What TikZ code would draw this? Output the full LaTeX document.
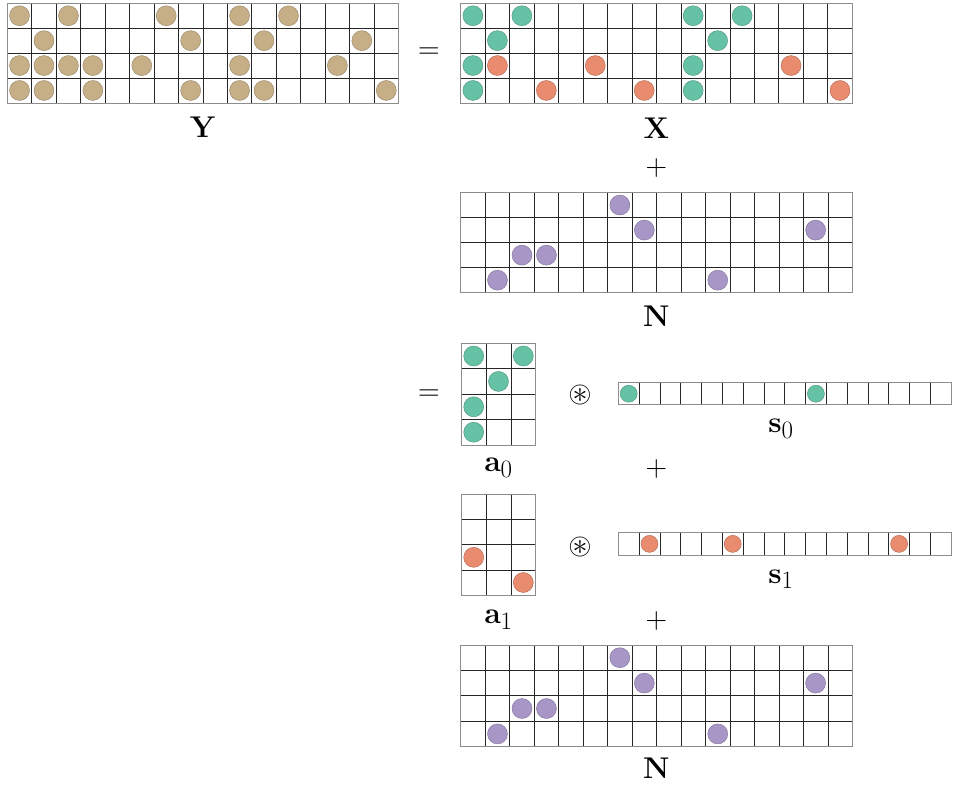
\documentclass[tikz,border=0pt]{standalone}
\usepackage{amsmath,amssymb}
\definecolor{tanc}{RGB}{198,175,135}
\definecolor{grnc}{RGB}{102,194,165}
\definecolor{orgc}{RGB}{232,139,110}
\definecolor{purc}{RGB}{168,150,199}
\tikzset{
  inln/.style={draw=black!85,line width=0.5pt},
  bdln/.style={draw=black!45,line width=0.6pt},
  lbl/.style={font=\Huge,scale=0.904,inner sep=0pt,anchor=base},
}
\newcommand\mygrid[6]{%
  \foreach \i in {0,...,#3} \draw[inln] ({#1+\i*#5},#2) -- ({#1+\i*#5},{#2+#4*#6});
  \foreach \j in {0,...,#4} \draw[inln] (#1,{#2+\j*#6}) -- ({#1+#3*#5},{#2+\j*#6});
  \draw[bdln] (#1,#2) rectangle ({#1+#3*#5},{#2+#4*#6});
}
\newcommand\mydisks[7]{%
  \foreach \c/\r in {#7} \filldraw[fill=#5,draw=#5!75!black,line width=0.3pt] ({#1+(\c+0.5)*#3},{#2+(\r+0.5)*#4}) circle[radius=#6];
}
\begin{document}
\begin{tikzpicture}[x=0.75pt,y=-0.75pt]
\useasboundingbox (0,0) rectangle (954,790);
% Y
\mygrid{7.3}{3.3}{16}{4}{24.45}{24.9}
\mydisks{7.3}{3.3}{24.45}{24.9}{tanc}{7.5pt}{0/0,2/0,6/0,9/0,11/0,1/1,7/1,10/1,14/1,0/2,1/2,2/2,3/2,5/2,9/2,13/2,0/3,1/3,3/3,7/3,9/3,10/3,15/3}
\node[lbl] (labY) at (203,137.5) {$\mathbf{Y}$};
\node[lbl] (eq1) at (429,58.5) {$=$};
% X
\mygrid{460.7}{3.3}{16}{4}{24.47}{24.9}
\mydisks{460.7}{3.3}{24.47}{24.9}{grnc}{7.5pt}{0/0,2/0,9/0,11/0,1/1,10/1,0/2,9/2,0/3,9/3}
\mydisks{460.7}{3.3}{24.47}{24.9}{orgc}{7.5pt}{1/2,5/2,13/2,3/3,7/3,15/3}
\node[lbl] (labX) at (656.3,138) {$\mathbf{X}$};
\node[lbl] (plus1) at (656.3,175.8) {$+$};
% N
\mygrid{460.8}{192.5}{16}{4}{24.47}{25.05}
\mydisks{460.8}{192.5}{24.47}{25.05}{purc}{7.5pt}{6/0,7/1,14/1,2/2,3/2,1/3,10/3}
\node[lbl] (labN1) at (656.3,326) {$\mathbf{N}$};
% second equation
\node[lbl] (eq2) at (429,400) {$=$};
\mygrid{461.3}{343.3}{3}{4}{24.8}{25.4}
\mydisks{461.3}{343.3}{24.8}{25.4}{grnc}{7.5pt}{0/0,2/0,1/1,0/2,0/3}
\node[lbl] (laba0) at (498.5,471.5) {$\mathbf{a}_0$};
\node[lbl] (conv0) at (580,402.5) {$\circledast$};
\mygrid{618.3}{382.7}{16}{1}{20.8}{22}
\mydisks{618.3}{382.7}{20.8}{22}{grnc}{6.4pt}{0/0,9/0}
\node[lbl] (labs0) at (781,432.3) {$\mathbf{s}_0$};
\node[lbl] (plus2) at (656.3,476) {$+$};
% a1 s1
\mygrid{461.3}{494.3}{3}{4}{24.8}{25.2}
\mydisks{461.3}{494.3}{24.8}{25.2}{orgc}{7.5pt}{0/2,2/3}
\node[lbl] (laba1) at (498.5,623.3) {$\mathbf{a}_1$};
\node[lbl] (conv1) at (580,554) {$\circledast$};
\mygrid{618.3}{532.7}{16}{1}{20.8}{22.3}
\mydisks{618.3}{532.7}{20.8}{22.3}{orgc}{6.4pt}{1/0,5/0,13/0}
\node[lbl] (labs1) at (781,583) {$\mathbf{s}_1$};
\node[lbl] (plus3) at (656.3,628) {$+$};
% N second
\mygrid{460.8}{645}{16}{4}{24.47}{25.4}
\mydisks{460.8}{645}{24.47}{25.4}{purc}{7.5pt}{6/0,7/1,14/1,2/2,3/2,1/3,10/3}
\node[lbl] (labN2) at (656.3,778.3) {$\mathbf{N}$};
\end{tikzpicture}
\end{document}
